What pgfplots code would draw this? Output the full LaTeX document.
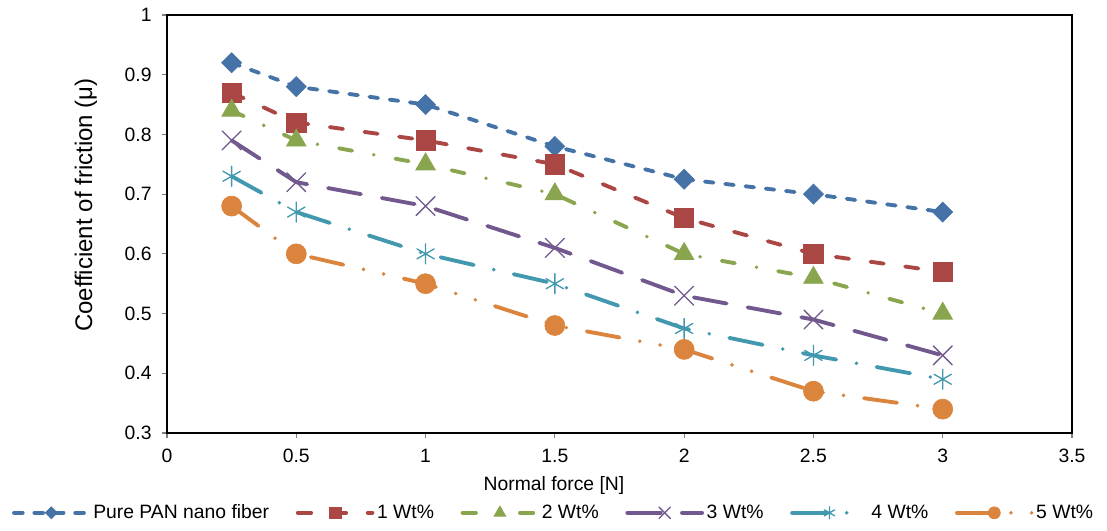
\documentclass[border=0pt]{standalone}
\usepackage{fontspec}
\setmainfont{Liberation Sans}
\usepackage{pgfplots}
\pgfplotsset{compat=1.18}
\definecolor{cBlue}{HTML}{4572A7}
\definecolor{cRed}{HTML}{AA4643}
\definecolor{cGreen}{HTML}{89A54E}
\definecolor{cPurple}{HTML}{71588F}
\definecolor{cTeal}{HTML}{4198AF}
\definecolor{cOrange}{HTML}{DB843D}
\begin{document}
\begin{tikzpicture}
\begin{axis}[
  at={(0,0)}, anchor=south west,
  scale only axis, width=678.75pt, height=313.5pt,
  xmin=0, xmax=3.5, ymin=0.3, ymax=1,
  xtick={0,0.5,1,1.5,2,2.5,3,3.5},
  ytick={0.3,0.4,0.5,0.6,0.7,0.8,0.9,1},
  /pgf/number format/assume math mode=true,
  /pgf/number format/fixed,
  tick label style={font=\fontsize{14.5}{16}\selectfont},
  xticklabel style={yshift=-4.5pt},
  yticklabel style={xshift=-4pt},
  xtick pos=bottom, ytick pos=left,
  tick align=outside, major tick length=4pt,
  tick style={gray, line width=0.8pt},
  axis line style={black, line width=2pt},
  xlabel={Normal force [N]},
  ylabel={Coefficient of friction (μ)},
  xlabel style={font=\fontsize{14.5}{16}\selectfont, at={(axis description cs:0.4276,-0.138)}, anchor=base},
  ylabel style={font=\fontsize{18}{20}\selectfont, at={(axis description cs:-0.0895,0.545)}, anchor=center},
  legend columns=6,
  legend style={draw=none, font=\fontsize{14.5}{16}\selectfont,
    at={(axis description cs:0.4276,-0.191)}, anchor=center,
    /tikz/every even column/.append style={column sep=18pt}},
  legend image code/.code={\draw[mark repeat=2, mark phase=2, every mark/.append style={scale=0.6}] plot coordinates {(0pt,0pt) (28pt,0pt) (56pt,0pt)};},
  every axis plot/.append style={line width=2.9pt, line cap=round},
]
\addplot[cBlue, dash pattern=on 6.5pt off 8.8pt, mark=square*, mark size=5.3pt,
  mark options={solid, rotate=45, fill=cBlue, line width=0.5pt}]
  coordinates {(0.25,0.92) (0.5,0.88) (1,0.85) (1.5,0.78) (2,0.725) (2.5,0.70) (3,0.67)};
\addlegendentry{Pure PAN nano fiber}
\addplot[cRed, dash pattern=on 10pt off 16.25pt, mark=square*, mark size=7.2pt,
  mark options={solid, fill=cRed, line width=0.5pt}]
  coordinates {(0.25,0.87) (0.5,0.82) (1,0.79) (1.5,0.75) (2,0.66) (2.5,0.60) (3,0.57)};
\addlegendentry{1 Wt\%}
\addplot[cGreen, dash pattern=on 10pt off 16.5pt on 0pt off 16.5pt, mark=triangle*, mark size=8.5pt,
  mark options={solid, fill=cGreen, line width=0.5pt}]
  coordinates {(0.25,0.84) (0.5,0.79) (1,0.75) (1.5,0.70) (2,0.60) (2.5,0.56) (3,0.50)};
\addlegendentry{2 Wt\%}
\addplot[cPurple, dash pattern=on 25pt off 16pt, mark=x, mark size=10pt,
  mark options={solid, line width=1pt}]
  coordinates {(0.25,0.79) (0.5,0.72) (1,0.68) (1.5,0.61) (2,0.53) (2.5,0.49) (3,0.43)};
\addlegendentry{3 Wt\%}
\addplot[cTeal, dash pattern=on 25.5pt off 15.4pt on 0pt off 15.4pt, mark=asterisk, mark size=7.5pt,
  mark options={solid, line width=1pt}]
  coordinates {(0.25,0.73) (0.5,0.67) (1,0.60) (1.5,0.55) (2,0.475) (2.5,0.43) (3,0.39)};
\addlegendentry{4 Wt\%}
\addplot[cOrange, dash pattern=on 25pt off 15.5pt on 0pt off 15.5pt on 0pt off 15.5pt, mark=*, mark size=7.5pt,
  mark options={solid, fill=cOrange, line width=0.5pt}]
  coordinates {(0.25,0.68) (0.5,0.60) (1,0.55) (1.5,0.48) (2,0.44) (2.5,0.37) (3,0.34)};
\addlegendentry{5 Wt\%}
\end{axis}
\pgfresetboundingbox
\path[use as bounding box] (-125.25pt,-73.5pt) rectangle (705pt,324.75pt);
\end{tikzpicture}
\end{document}
